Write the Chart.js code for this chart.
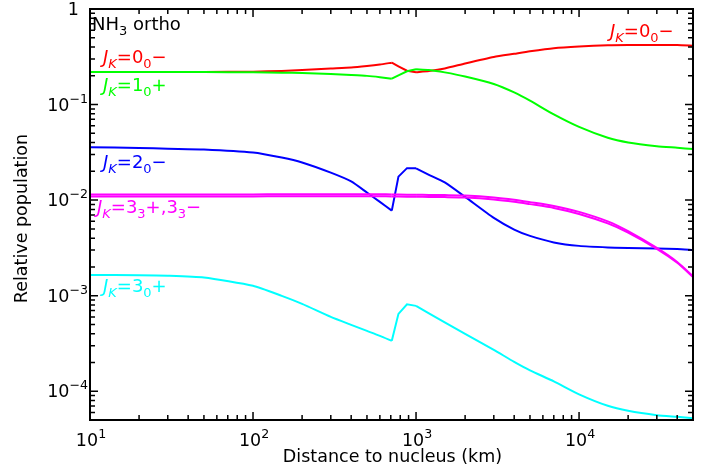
<!DOCTYPE html>
<html>
<head>
<meta charset="utf-8">
<script src="https://cdn.jsdelivr.net/npm/chart.js@4.4.0/dist/chart.umd.min.js"></script>
<style>
  html, body { margin: 0; padding: 0; background: #fff; }
  canvas { display: block; }
</style>
</head>
<body>
<canvas id="nh3_chart" width="717" height="475"></canvas>
<script>
// distance to nucleus (km), shared by every curve
var distance = [10, 20, 30, 50, 100, 150, 200, 300, 400, 500, 600, 710, 780, 880, 1000, 1200, 1500, 2000, 3000, 4000, 5000, 7000, 10000, 15000, 20000, 30000, 40000, 50000]

// relative populations
var pop00m = [0.219, 0.219, 0.219, 0.2195, 0.221, 0.2245, 0.230, 0.2385, 0.2445, 0.2534, 0.2627, 0.2744, 0.2515, 0.2258, 0.2183, 0.2245, 0.2386, 0.269, 0.3147, 0.340, 0.361, 0.389, 0.405, 0.417, 0.420, 0.420, 0.419, 0.413]
var pop10p = [0.219, 0.219, 0.219, 0.219, 0.2177, 0.2157, 0.214, 0.209, 0.204, 0.1996, 0.1935, 0.1866, 0.2025, 0.2230, 0.234, 0.230, 0.2171, 0.1967, 0.1642, 0.1340, 0.1099, 0.0788, 0.0583, 0.0449, 0.0401, 0.0367, 0.0353, 0.0342]
var pop20m = [0.0358, 0.0351, 0.0345, 0.0339, 0.0315, 0.0279, 0.0248, 0.0194, 0.0157, 0.0120, 0.00958, 0.00776, 0.0176, 0.0216, 0.0215, 0.0184, 0.0153, 0.0108, 0.00651, 0.00491, 0.00422, 0.00361, 0.00332, 0.00320, 0.00316, 0.00312, 0.00308, 0.00301]
var pop33p = [0.01142, 0.01142, 0.01142, 0.01145, 0.01147, 0.01150, 0.01152, 0.01152, 0.01152, 0.01152, 0.01150, 0.01147, 0.01145, 0.01139, 0.01136, 0.01134, 0.01128, 0.01117, 0.01067, 0.01010, 0.00953, 0.00869, 0.00753, 0.00599, 0.00473, 0.00316, 0.00225, 0.00160]
var pop33m = [0.01088, 0.01088, 0.01088, 0.01091, 0.01093, 0.01096, 0.01098, 0.01098, 0.01098, 0.01098, 0.01096, 0.01093, 0.01091, 0.01085, 0.01083, 0.01080, 0.01075, 0.01064, 0.01017, 0.00962, 0.00908, 0.00829, 0.00717, 0.00571, 0.00457, 0.00309, 0.00221, 0.00157]
var pop30p = [0.00165, 0.00164, 0.00162, 0.00155, 0.00127, 0.000995, 0.000821, 0.000600, 0.000495, 0.000428, 0.000380, 0.000337, 0.000645, 0.000811, 0.000782, 0.000653, 0.000526, 0.000399, 0.000271, 0.000203, 0.0001654, 0.0001269, 0.0000928, 0.0000704, 0.0000624, 0.0000562, 0.0000540, 0.0000523]

// the jump between 710 and 1000 km is drawn with straight pieces
var kinkStart = 11
var kinkEnd = 14

// axis decades and texts
var xTickExps = [1, 2, 3, 4]
var yTickExps = [-4, -3, -2, -1, 0]
var xTitle = "Distance to nucleus (km)"
var yTitle = "Relative population"

// curve labels as rich text pieces
var labelTitle = [{t: "NH"}, {t: "3", sub: 1}, {t: " ortho"}]
var label00m = [{t: "J", it: 1}, {t: "K", sub: 1, it: 1}, {t: "=0"}, {t: "0", sub: 1}, {t: "\u2212"}]
var label10p = [{t: "J", it: 1}, {t: "K", sub: 1, it: 1}, {t: "=1"}, {t: "0", sub: 1}, {t: "+"}]
var label20m = [{t: "J", it: 1}, {t: "K", sub: 1, it: 1}, {t: "=2"}, {t: "0", sub: 1}, {t: "\u2212"}]
var label33 = [{t: "J", it: 1}, {t: "K", sub: 1, it: 1}, {t: "=3"}, {t: "3", sub: 1}, {t: "+,3"}, {t: "3", sub: 1}, {t: "\u2212"}]
var label30p = [{t: "J", it: 1}, {t: "K", sub: 1, it: 1}, {t: "=3"}, {t: "0", sub: 1}, {t: "+"}]

var FONT = '"DejaVu Sans", sans-serif'

function toPoints(ys, from, to) {
  var pts = []
  for (var i = from; i <= to; i++) pts.push({x: distance[i], y: ys[i]})
  return pts
}

// one curve = smooth left part, straight jump, smooth right part
function curveSets(name, ys, color, order) {
  var last = distance.length - 1
  return [
    {label: name, data: toPoints(ys, 0, kinkStart), borderColor: color, order: order, tension: 0.2},
    {label: name, data: toPoints(ys, kinkStart, kinkEnd), borderColor: color, order: order, tension: 0},
    {label: name, data: toPoints(ys, kinkEnd, last), borderColor: color, order: order, tension: 0.2}
  ]
}

function drawParts(ctx, parts, x, y, size, color, align) {
  var pieces = parts.map(function (p) {
    var s = (p.sub || p.sup) ? size * 0.72 : size
    var f = (p.it ? "italic " : "") + s + "px " + FONT
    ctx.font = f
    return {t: p.t, f: f, w: ctx.measureText(p.t).width, dy: p.sub ? size * 0.3 : (p.sup ? -size * 0.45 : 0)}
  })
  var total = 0
  pieces.forEach(function (p) { total += p.w })
  var cx = align == "center" ? x - total / 2 : (align == "right" ? x - total : x)
  ctx.fillStyle = color
  ctx.textAlign = "left"
  ctx.textBaseline = "alphabetic"
  pieces.forEach(function (p) {
    ctx.font = p.f
    ctx.fillText(p.t, cx, y + p.dy)
    cx += p.w
  })
}

// IDL-style frame: box, inward ticks on all sides, labels and titles
var idlFrame = {
  id: "idlFrame",
  afterDraw: function (chart) {
    var ctx = chart.ctx
    var a = chart.chartArea
    var xs = chart.scales.x
    var ys = chart.scales.y
    ctx.save()
    ctx.strokeStyle = "#000"
    ctx.lineWidth = 2
    ctx.strokeRect(a.left, a.top, a.right - a.left, a.bottom - a.top)

    ctx.lineWidth = 1.5
    ctx.beginPath()
    for (var e = 1; e <= 4; e++) {
      for (var k = 1; k <= 9; k++) {
        var v = k * Math.pow(10, e)
        if (v > xs.max) break
        var px = xs.getPixelForValue(v)
        var len = k == 1 ? 8 : 5
        ctx.moveTo(px, a.bottom); ctx.lineTo(px, a.bottom - len)
        ctx.moveTo(px, a.top); ctx.lineTo(px, a.top + len)
      }
    }
    for (var e2 = -5; e2 <= -1; e2++) {
      for (var k2 = 1; k2 <= 9; k2++) {
        var v2 = k2 * Math.pow(10, e2)
        if (v2 < ys.min) continue
        var py = ys.getPixelForValue(v2)
        var len2 = k2 == 1 ? 8 : 5
        ctx.moveTo(a.left, py); ctx.lineTo(a.left + len2, py)
        ctx.moveTo(a.right, py); ctx.lineTo(a.right - len2, py)
      }
    }
    ctx.stroke()

    xTickExps.forEach(function (ex) {
      var px = xs.getPixelForValue(Math.pow(10, ex))
      drawParts(ctx, [{t: "10"}, {t: String(ex), sup: 1}], px + 1, 446, 17.5, "#000", "center")
    })
    yTickExps.forEach(function (ex) {
      var py = ys.getPixelForValue(Math.pow(10, ex))
      if (ex == 0) {
        drawParts(ctx, [{t: "1"}], 79, py + 6, 17.5, "#000", "right")
      } else {
        drawParts(ctx, [{t: "10"}, {t: "\u2212" + (-ex), sup: 1}], 88, py + 6, 17.5, "#000", "right")
      }
    })

    drawParts(ctx, [{t: xTitle}], (a.left + a.right) / 2 + 1, 462, 17.5, "#000", "center")
    ctx.save()
    ctx.translate(27, (a.top + a.bottom) / 2 + 4)
    ctx.rotate(-Math.PI / 2)
    drawParts(ctx, [{t: yTitle}], 0, 0, 17.5, "#000", "center")
    ctx.restore()

    drawParts(ctx, labelTitle, 92, 30, 18, "#000", "left")
    drawParts(ctx, label00m, 103, 63, 18, "#ff0000", "left")
    drawParts(ctx, label00m, 610, 37, 18, "#ff0000", "left")
    drawParts(ctx, label10p, 103, 91, 18, "#00ff00", "left")
    drawParts(ctx, label20m, 103, 168, 18, "#0000ff", "left")
    drawParts(ctx, label33, 97, 213, 18, "#ff00ff", "left")
    drawParts(ctx, label30p, 103, 292, 18, "#00ffff", "left")
    ctx.restore()
  }
}

var datasets = [].concat(
  curveSets("0_0-", pop00m, "#ff0000", 5),
  curveSets("1_0+", pop10p, "#00ff00", 4),
  curveSets("2_0-", pop20m, "#0000ff", 3),
  curveSets("3_3+", pop33p, "#ff00ff", 2),
  curveSets("3_3-", pop33m, "#ff00ff", 1),
  curveSets("3_0+", pop30p, "#00ffff", 0)
)

var chart = new Chart(document.getElementById("nh3_chart").getContext("2d"), {
  type: "line",
  data: {datasets: datasets},
  options: {
    responsive: false,
    animation: false,
    layout: {padding: {left: 90, right: 24, top: 9, bottom: 55}},
    plugins: {legend: {display: false}, tooltip: {enabled: false}},
    elements: {point: {radius: 0}, line: {tension: 0, borderWidth: 2, fill: false}},
    scales: {
      x: {type: "logarithmic", min: 10, max: 50000, display: false},
      y: {type: "logarithmic", min: 5e-5, max: 1, display: false}
    }
  },
  plugins: [idlFrame]
})
</script>
</body>
</html>
